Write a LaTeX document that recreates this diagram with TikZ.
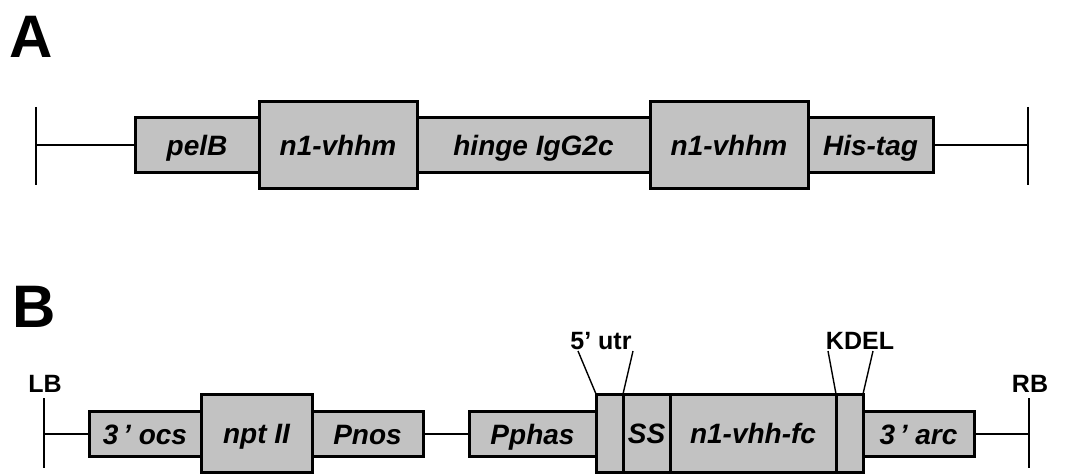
\documentclass[tikz,border=0pt]{standalone}
\usepackage{fontspec}
\setmainfont{Liberation Sans}
\definecolor{boxgray}{RGB}{194,194,194}
\begin{document}
\begin{tikzpicture}[x=1pt,y=-1pt,
  gbox/.style={draw=black, line width=3pt, fill=boxgray, inner sep=0pt, outer sep=0pt,
    font=\fontsize{28}{30}\selectfont\bfseries\itshape, text height=20pt, text depth=0pt},
  low/.style={gbox, minimum height=54pt},
  tall/.style={gbox, minimum height=87pt},
  lowb/.style={gbox, minimum height=45pt},
  tallb/.style={gbox, minimum height=78pt},
  wire/.style={line width=2.4pt},
  bar/.style={line width=2.6pt},
  plabel/.style={font=\fontsize{60}{60}\selectfont\bfseries, inner sep=0pt},
  slabel/.style={font=\fontsize{25}{28}\selectfont\bfseries, inner sep=0pt},
  pointer/.style={line width=1.4pt}]
\useasboundingbox (0,0) rectangle (1070,476);

% ---------- Panel A ----------
\node[plabel] (labA) at (31,36.5) {A};
\coordinate (aLtop) at (36,107);
\coordinate (aLbot) at (36,185);
\coordinate (aL) at (36,145);
\coordinate (aRtop) at (1028,107);
\coordinate (aRbot) at (1028,185);
\coordinate (aR) at (1028,145);
\node[low, minimum width=124pt] (pelB) at (197,145) {pelB};
\node[low, minimum width=233pt] (hinge) at (533.5,145) {hinge IgG2c};
\node[low, minimum width=125pt] (his) at (870.5,145) {His-tag};
\node[tall, minimum width=158pt] (n1a) at (338,145) {n1-vhhm};
\node[tall, minimum width=158pt] (n1b) at (729,145) {n1-vhhm};
\draw[bar] (aLtop) -- (aLbot);
\draw[bar] (aRtop) -- (aRbot);
\draw[wire] (aL) -- (pelB.west);
\draw[wire] (his.east) -- (aR);

% ---------- Panel B ----------
\node[plabel] (labB) at (34,306.5) {B};
\node[slabel] (LB) at (45,384) {LB};
\node[slabel] (RB) at (1030,384) {RB};
\coordinate (bLtop) at (44,398);
\coordinate (bLbot) at (44,468);
\coordinate (bL) at (44,434);
\coordinate (bRtop) at (1029,398);
\coordinate (bRbot) at (1029,468);
\coordinate (bR) at (1029,434);
\node[lowb, minimum width=112pt] (ocs) at (145,434) {3\,’ ocs};
\node[lowb, minimum width=111pt] (pnos) at (367.5,434) {Pnos};
\node[lowb, minimum width=127pt] (pphas) at (532.5,434) {Pphas};
\node[lowb, minimum width=111pt] (arc) at (918.5,434) {3\,’ arc};
\node[tallb, minimum width=111pt] (npt) at (256.5,433) {npt II};
\node[tallb, minimum width=27pt] (utr) at (609.5,433) {};
\node[tallb, minimum width=47pt] (ss) at (646.5,433) {SS};
\node[tallb, minimum width=166pt] (fc) at (753,433) {n1-vhh-fc};
\node[tallb, minimum width=27pt] (kdel) at (849.5,433) {};
\draw[bar] (bLtop) -- (bLbot);
\draw[bar] (bRtop) -- (bRbot);
\draw[wire] (bL) -- (ocs.west);
\draw[wire] (pnos.east) -- (pphas.west);
\draw[wire] (arc.east) -- (bR);

\node[slabel] (utrlab) at (601,341) {5’ utr};
\node[slabel] (kdellab) at (860,341) {KDEL};
\coordinate (u1) at (578,351);
\coordinate (u2) at (633,351);
\coordinate (k1) at (828,351);
\coordinate (k2) at (873,351);
\draw[pointer] (u1) -- (utr.north west);
\draw[pointer] (u2) -- (utr.north east);
\draw[pointer] (k1) -- (kdel.north west);
\draw[pointer] (k2) -- (kdel.north east);
\end{tikzpicture}
\end{document}
